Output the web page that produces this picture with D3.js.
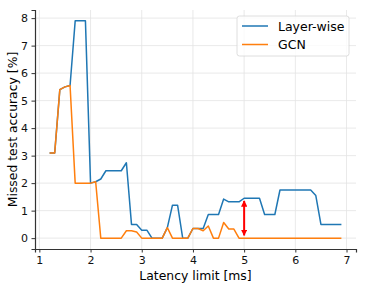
<!DOCTYPE html>
<html>
<head>
<meta charset="utf-8">
<script src="https://cdn.jsdelivr.net/npm/d3@7"></script>
<style>
  body { margin: 0; background: #fff; }
  svg { display: block; font-family: "DejaVu Sans", sans-serif; }
</style>
</head>
<body>
<div id="chart"></div>
<script>
// latency limits, 0.1 ms steps
const latency = d3.range(12, 70).map((v) => v / 10);

const layerWise = [
  3.1, 3.1, 5.4, 5.5, 5.55, 7.9, 7.9, 7.9, 2.0, 2.05,
  2.15, 2.45, 2.45, 2.45, 2.45, 2.74, 0.5, 0.5, 0.29, 0.29,
  0, 0, 0, 0.38, 1.2, 1.2, 0, 0, 0.35, 0.35,
  0.35, 0.86, 0.86, 0.86, 1.42, 1.32, 1.32, 1.32, 1.45, 1.45,
  1.45, 1.45, 0.86, 0.86, 0.86, 1.75, 1.75, 1.75, 1.75, 1.75,
  1.75, 1.75, 1.55, 0.5, 0.5, 0.5, 0.5, 0.5
];

const gcn = [
  3.1, 3.1, 5.4, 5.5, 5.55, 2.0, 2.0, 2.0, 2.0, 2.05,
  0, 0, 0, 0, 0, 0.27, 0.27, 0.22, 0, 0,
  0, 0, 0, 0.38, 0, 0, 0, 0, 0.35, 0.35,
  0.27, 0.44, 0, 0, 0.57, 0.33, 0.33, 0, 0, 0,
  0, 0, 0, 0, 0, 0, 0, 0, 0, 0,
  0, 0, 0, 0, 0, 0, 0, 0
];

const xTicks = [1, 2, 3, 4, 5, 6, 7];
const yTicks = [0, 1, 2, 3, 4, 5, 6, 7, 8];
const seriesNames = ["Layer-wise", "GCN"];
const gapAt = 5.0;   // red arrow position
const gapRange = [0.1, 1.35];

const width = 366, height = 288;
const margin = { top: 10, right: 10, bottom: 39, left: 35 };

const svg = d3.select("#chart").append("svg")
  .attr("width", width)
  .attr("height", height);

const x = d3.scaleLinear().domain([0.915, 7.185]).range([margin.left, width - margin.right]);
const y = d3.scaleLinear().domain([-0.395, 8.295]).range([height - margin.bottom, margin.top]);

// grid
svg.append("g").selectAll("line").data(xTicks).join("line")
  .attr("x1", (d) => x(d)).attr("x2", (d) => x(d))
  .attr("y1", y.range()[0]).attr("y2", y.range()[1])
  .attr("stroke", "#e3e3e3").attr("stroke-width", 0.8);
svg.append("g").selectAll("line").data(yTicks).join("line")
  .attr("y1", (d) => y(d)).attr("y2", (d) => y(d))
  .attr("x1", x.range()[0]).attr("x2", x.range()[1])
  .attr("stroke", "#e3e3e3").attr("stroke-width", 0.8);

// axes
const xAxis = svg.append("g")
  .attr("transform", `translate(0,${height - margin.bottom})`)
  .call(d3.axisBottom(x).tickValues(xTicks).tickSize(3.5).tickPadding(3.5).tickFormat(d3.format("d")));
const yAxis = svg.append("g")
  .attr("transform", `translate(${margin.left},0)`)
  .call(d3.axisLeft(y).tickValues(yTicks).tickSize(3.5).tickPadding(3.5).tickFormat(d3.format("d")));

[xAxis, yAxis].forEach((g) => {
  g.select(".domain").attr("stroke", "#333").attr("stroke-width", 1.2);
  g.selectAll(".tick line").attr("stroke", "#333").attr("stroke-width", 1);
  g.selectAll(".tick text").attr("fill", "#111").style("font-size", "11px")
    .style("font-family", "DejaVu Sans, sans-serif");
});

// lines
const line = d3.line().x((d) => x(d[0])).y((d) => y(d[1]));
const colors = ["#1f77b4", "#ff7f0e"];
[layerWise, gcn].forEach((vals, i) => {
  svg.append("path")
    .datum(latency.map((t, j) => [t, vals[j]]))
    .attr("d", line)
    .attr("fill", "none")
    .attr("stroke", colors[i])
    .attr("stroke-width", 1.5)
    .attr("stroke-linejoin", "round");
});

// double arrow
const defs = svg.append("defs");
defs.append("marker")
  .attr("id", "head")
  .attr("viewBox", "0 0 10 10")
  .attr("refX", 9).attr("refY", 5)
  .attr("markerWidth", 3.2).attr("markerHeight", 3.2)
  .attr("markerUnits", "strokeWidth")
  .attr("orient", "auto-start-reverse")
  .append("path").attr("d", "M0,0 L10,5 L0,10 z").attr("fill", "red");
svg.append("line")
  .attr("x1", x(gapAt)).attr("x2", x(gapAt))
  .attr("y1", y(gapRange[0])).attr("y2", y(gapRange[1]))
  .attr("stroke", "red").attr("stroke-width", 2)
  .attr("marker-start", "url(#head)")
  .attr("marker-end", "url(#head)");

// axis labels
svg.append("text")
  .attr("x", (x.range()[0] + x.range()[1]) / 2)
  .attr("y", 280)
  .attr("text-anchor", "middle")
  .style("font-size", "12.4px")
  .text("Latency limit [ms]");
svg.append("text")
  .attr("transform", `translate(16.5,${(y.range()[0] + y.range()[1]) / 2}) rotate(-90)`)
  .attr("text-anchor", "middle")
  .style("font-size", "12.4px")
  .text("Missed test accuracy [%]");

// legend
const legend = svg.append("g").attr("transform", "translate(237,16)");
legend.append("rect")
  .attr("width", 112).attr("height", 40).attr("rx", 2.5)
  .attr("fill", "#fff").attr("fill-opacity", 0.8)
  .attr("stroke", "#d6d6d6").attr("stroke-width", 0.8);
seriesNames.forEach((name, i) => {
  const yy = 10 + i * 18.5;
  legend.append("line")
    .attr("x1", 5).attr("x2", 31).attr("y1", yy).attr("y2", yy)
    .attr("stroke", colors[i]).attr("stroke-width", 1.5);
  legend.append("text")
    .attr("x", 41).attr("y", yy + 4.5)
    .style("font-size", "12.5px")
    .text(name);
});
</script>
</body>
</html>
